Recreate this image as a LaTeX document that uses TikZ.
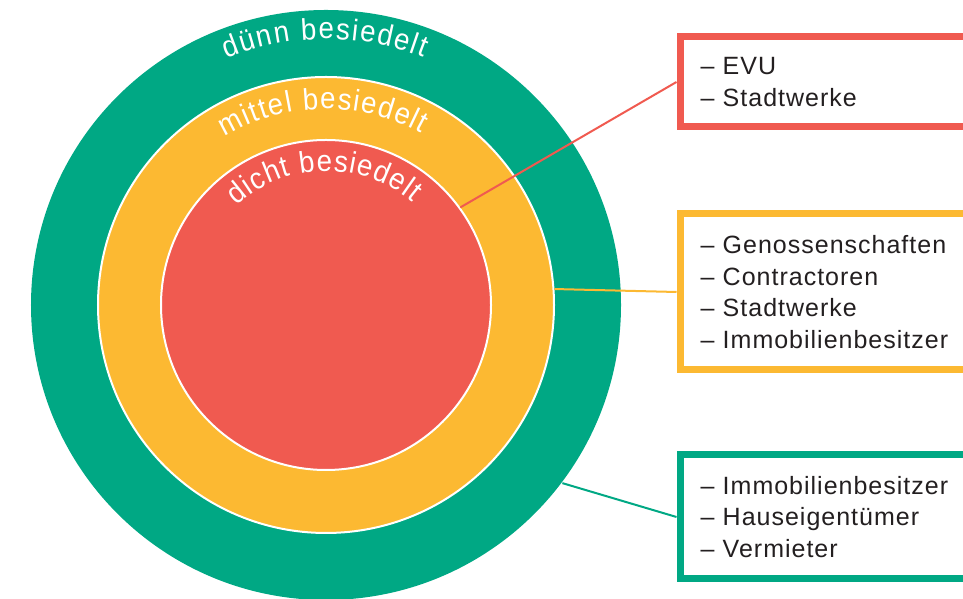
\documentclass[tikz,border=0pt]{standalone}
\usepackage{fontspec}
\setmainfont{Liberation Sans}
\newfontfamily\listfont{Liberation Sans}[LetterSpace=4]
\newfontfamily\ringfamilie{Liberation Sans}[FakeStretch=0.92]
\usetikzlibrary{decorations.text}
\definecolor{gruen}{RGB}{0,168,132}
\definecolor{gelb}{RGB}{252,185,50}
\definecolor{rot}{RGB}{240,90,80}
\definecolor{schrift}{RGB}{35,31,32}
\newcommand{\ringschrift}{\ringfamilie\fontsize{30bp}{32bp}\selectfont\color{white}}
\tikzstyle{ring} = [circle, inner sep=0pt, draw=white, line width=2bp]
\tikzstyle{liste} = [rectangle, anchor=north west, line width=7bp, fill=white, inner xsep=20.5bp, inner ysep=0pt, text width=270bp, align=left, text=schrift, font=\listfont\fontsize{25bp}{31.5bp}\selectfont]
\tikzstyle{linie} = [line width=2bp]

\begin{document}
\begin{tikzpicture}[x=1bp, y=1bp]
    \useasboundingbox (0,0) rectangle (963,599);
    \clip (0,0) rectangle (963,599);
    \coordinate (mitte) at (326,294);

    % Ringe
    \node (duenn) [ring, fill=gruen, draw=none, minimum size=590bp] at (mitte) {};
    \node (mittel) [ring, fill=gelb, minimum size=456bp] at (mitte) {};
    \node (dicht) [ring, fill=rot, minimum size=330bp] at (mitte) {};

    \path[shift={(mitte)}, decorate, decoration={text along path, text align={fit to path}, text={|\ringschrift|dünn besiedelt}}] (112:266) arc[start angle=112, end angle=68.5, radius=266];
    \path[shift={(mitte)}, decorate, decoration={text along path, text align={fit to path}, text={|\ringschrift|mittel besiedelt}}] (121:196) arc[start angle=121, end angle=61, radius=196];
    \path[shift={(mitte)}, decorate, decoration={text along path, text align={fit to path}, text={|\ringschrift|dicht besiedelt}}] (132:134) arc[start angle=132, end angle=50, radius=134];

    % Kaesten
    \node (dichtliste) [liste, draw=rot, minimum height=90bp] at (676.5,565.5) {– EVU\\– Stadtwerke};
    \node (mittelliste) [liste, draw=gelb, minimum height=156bp] at (676.5,388.5) {– Genossenschaften\\– Contractoren\\– Stadtwerke\\– Immobilienbesitzer};
    \node (duennliste) [liste, draw=gruen, minimum height=124bp] at (676.5,147.5) {– Immobilienbesitzer\\– Hauseigentümer\\– Vermieter};

    \draw [linie, rot] (dicht.36) -- (dichtliste.west);
    \draw [linie, gelb] (mittel.4.3) -- (mittelliste.west);
    \draw [linie, gruen] (duenn.-37) -- (duennliste.west);
\end{tikzpicture}
\end{document}
